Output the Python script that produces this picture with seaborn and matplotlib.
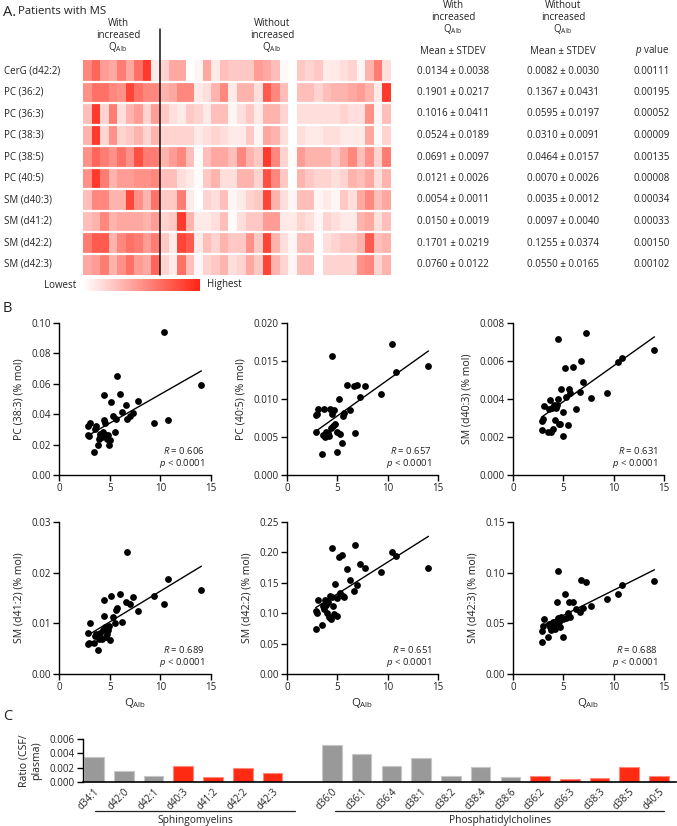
import numpy as np
import pandas as pd
import matplotlib
matplotlib.use("Agg")
import matplotlib.pyplot as plt
import matplotlib.transforms as mtransforms
from matplotlib.colors import LinearSegmentedColormap, to_rgb
import seaborn as sns

sns.set_theme(style="ticks")
plt.rcParams['font.family'] = ['Open Sans', 'DejaVu Sans']
plt.rcParams['mathtext.fontset'] = 'custom'
plt.rcParams['mathtext.rm'] = 'Open Sans'
plt.rcParams['mathtext.it'] = 'Open Sans:italic'
plt.rcParams['axes.edgecolor'] = 'black'
plt.rcParams['xtick.color'] = 'black'
plt.rcParams['ytick.color'] = 'black'
TXT = '#222222'
FS = 7

# ---------------- Panel A data ----------------
lipids = ['CerG (d42:2)', 'PC (36:2)', 'PC (36:3)', 'PC (38:3)', 'PC (38:5)',
          'PC (40:5)', 'SM (d40:3)', 'SM (d41:2)', 'SM (d42:2)', 'SM (d42:3)']
heat_with = [
    [0.55, 0.70, 0.45, 0.40, 0.60, 0.40, 0.65, 0.90, 0.10],
    [0.50, 0.65, 0.65, 0.55, 0.50, 0.85, 0.65, 0.55, 0.55],
    [0.30, 0.90, 0.20, 0.60, 0.15, 0.35, 0.45, 0.20, 0.45],
    [0.35, 0.90, 0.20, 0.50, 0.20, 0.25, 0.35, 0.20, 0.35],
    [0.50, 0.70, 0.60, 0.50, 0.65, 0.50, 0.80, 0.60, 0.60],
    [0.50, 0.90, 0.60, 0.35, 0.45, 0.45, 0.50, 0.50, 0.55],
    [0.30, 0.55, 0.55, 0.35, 0.35, 0.85, 0.50, 0.35, 0.65],
    [0.30, 0.35, 0.55, 0.35, 0.40, 0.40, 0.40, 0.35, 0.45],
    [0.60, 0.75, 0.75, 0.35, 0.55, 0.65, 0.60, 0.45, 0.60],
    [0.40, 0.45, 0.60, 0.35, 0.50, 0.65, 0.45, 0.40, 0.70],
]
heat_without = [
    [0.20, 0.40, 0.40, 0.00, 0.05, 0.40, 0.10, 0.30, 0.25, 0.25, 0.25, 0.45, 0.40, 0.30, 0.03, 0.00, 0.25, 0.20, 0.25, 0.10, 0.10, 0.15, 0.20, 0.05, 0.35, 0.60, 0.15],
    [0.35, 0.40, 0.55, 0.55, 0.10, 0.15, 0.35, 0.55, 0.10, 0.35, 0.35, 0.15, 0.75, 0.55, 0.30, 0.00, 0.30, 0.30, 0.20, 0.30, 0.35, 0.35, 0.40, 0.45, 0.35, 0.10, 0.90],
    [0.25, 0.15, 0.10, 0.25, 0.20, 0.10, 0.30, 0.30, 0.05, 0.15, 0.25, 0.10, 0.35, 0.35, 0.20, 0.00, 0.15, 0.15, 0.15, 0.15, 0.15, 0.20, 0.15, 0.15, 0.50, 0.05, 0.30],
    [0.20, 0.20, 0.20, 0.20, 0.10, 0.15, 0.20, 0.15, 0.10, 0.10, 0.25, 0.05, 0.40, 0.35, 0.15, 0.00, 0.15, 0.10, 0.10, 0.15, 0.15, 0.10, 0.10, 0.10, 0.40, 0.03, 0.20],
    [0.35, 0.45, 0.55, 0.30, 0.02, 0.30, 0.40, 0.40, 0.30, 0.55, 0.35, 0.25, 0.90, 0.55, 0.20, 0.02, 0.45, 0.35, 0.35, 0.35, 0.25, 0.40, 0.55, 0.30, 0.50, 0.20, 0.60],
    [0.30, 0.30, 0.15, 0.10, 0.02, 0.25, 0.35, 0.15, 0.15, 0.35, 0.35, 0.20, 0.80, 0.55, 0.25, 0.00, 0.35, 0.25, 0.20, 0.20, 0.15, 0.20, 0.35, 0.30, 0.40, 0.15, 0.35],
    [0.25, 0.25, 0.60, 0.10, 0.00, 0.20, 0.15, 0.30, 0.05, 0.10, 0.20, 0.25, 0.85, 0.35, 0.15, 0.05, 0.30, 0.30, 0.05, 0.10, 0.05, 0.25, 0.15, 0.40, 0.55, 0.30, 0.40],
    [0.20, 0.25, 0.90, 0.35, 0.10, 0.10, 0.15, 0.30, 0.02, 0.15, 0.25, 0.25, 0.45, 0.45, 0.10, 0.10, 0.20, 0.15, 0.05, 0.20, 0.15, 0.10, 0.10, 0.35, 0.40, 0.15, 0.30],
    [0.25, 0.10, 0.85, 0.75, 0.10, 0.30, 0.20, 0.35, 0.25, 0.25, 0.50, 0.25, 0.85, 0.35, 0.15, 0.05, 0.30, 0.30, 0.00, 0.15, 0.20, 0.25, 0.25, 0.35, 0.75, 0.30, 0.35],
    [0.20, 0.10, 0.65, 0.30, 0.05, 0.20, 0.25, 0.35, 0.15, 0.20, 0.40, 0.25, 0.85, 0.35, 0.20, 0.05, 0.30, 0.30, 0.00, 0.20, 0.20, 0.20, 0.20, 0.50, 0.55, 0.20, 0.35],
]
mean_with = ['0.0134 ± 0.0038', '0.1901 ± 0.0217', '0.1016 ± 0.0411', '0.0524 ± 0.0189',
             '0.0691 ± 0.0097', '0.0121 ± 0.0026', '0.0054 ± 0.0011', '0.0150 ± 0.0019',
             '0.1701 ± 0.0219', '0.0760 ± 0.0122']
mean_without = ['0.0082 ± 0.0030', '0.1367 ± 0.0431', '0.0595 ± 0.0197', '0.0310 ± 0.0091',
                '0.0464 ± 0.0157', '0.0070 ± 0.0026', '0.0035 ± 0.0012', '0.0097 ± 0.0040',
                '0.1255 ± 0.0374', '0.0550 ± 0.0165']
p_values = ['0.00111', '0.00195', '0.00052', '0.00009', '0.00135', '0.00008',
            '0.00034', '0.00033', '0.00150', '0.00102']

# ---------------- Panel B data ----------------
qalb = [2.85, 2.9, 3.0, 3.05, 3.5, 3.6, 3.7, 3.8, 3.9, 4.0, 4.05, 4.2, 4.3, 4.4, 4.45,
        4.5, 4.6, 4.7, 4.8, 4.95, 5.0, 5.15, 5.3, 5.5, 5.6, 5.7, 6.0, 6.25, 6.65, 6.75,
        7.0, 7.3, 7.75, 9.35, 10.4, 10.8, 14.05]
pc_38_3 = [0.026, 0.032, 0.0255, 0.034, 0.015, 0.030, 0.032, 0.020, 0.024, 0.025, 0.027,
           0.025, 0.028, 0.036, 0.0525, 0.034, 0.026, 0.024, 0.026, 0.020, 0.023, 0.048,
           0.039, 0.028, 0.037, 0.065, 0.053, 0.0415, 0.046, 0.037, 0.039, 0.041, 0.049,
           0.034, 0.094, 0.0365, 0.059]
pc_40_5 = [0.0057, 0.0079, 0.0080, 0.0087, 0.0028, 0.0053, 0.0087, 0.0050, 0.0057, 0.0053,
           0.0055, 0.0051, 0.0087, 0.0062, 0.0157, 0.0080, 0.0065, 0.0085, 0.0067, 0.0056,
           0.0030, 0.0100, 0.0054, 0.0042, 0.0077, 0.0082, 0.0118, 0.0086, 0.0117, 0.0055,
           0.0119, 0.0103, 0.0117, 0.0107, 0.0173, 0.0135, 0.0143]
sm_40_3 = [0.00238, 0.00283, 0.00297, 0.00362, 0.00224, 0.00345, 0.00394, 0.00228, 0.00353,
           0.00242, 0.00370, 0.00290, 0.00351, 0.00366, 0.00715, 0.00401, 0.00270, 0.00269,
           0.00454, 0.00330, 0.00203, 0.00562, 0.00412, 0.00261, 0.00452, 0.00429, 0.00569,
           0.00350, 0.00435, 0.00602, 0.00488, 0.00745, 0.00406, 0.00431, 0.00594, 0.00615,
           0.00660]
sm_41_2 = [0.0060, 0.0081, 0.0062, 0.0101, 0.0062, 0.0075, 0.0079, 0.0047, 0.0069, 0.0074,
           0.0080, 0.0070, 0.0087, 0.0115, 0.0146, 0.0092, 0.0073, 0.0079, 0.0087, 0.0094,
           0.0067, 0.0154, 0.0113, 0.0100, 0.0126, 0.0131, 0.0157, 0.0103, 0.0142, 0.0241,
           0.0139, 0.0152, 0.0124, 0.0154, 0.0138, 0.0188, 0.0166]
sm_42_2 = [0.0747, 0.104, 0.1005, 0.121, 0.080, 0.112, 0.107, 0.121, 0.114, 0.1005, 0.118,
           0.094, 0.128, 0.091, 0.207, 0.126, 0.112, 0.099, 0.148, 0.125, 0.096, 0.193,
           0.1335, 0.196, 0.129, 0.126, 0.172, 0.155, 0.136, 0.2115, 0.147, 0.181, 0.174,
           0.167, 0.200, 0.194, 0.175]
sm_42_3 = [0.0311, 0.0423, 0.0478, 0.0544, 0.0367, 0.0498, 0.0459, 0.0436, 0.0475, 0.0518,
           0.0495, 0.0446, 0.0475, 0.0711, 0.1019, 0.0557, 0.0518, 0.0462, 0.0567, 0.0540,
           0.0364, 0.0793, 0.0550, 0.0600, 0.0711, 0.0567, 0.0711, 0.0645, 0.0616, 0.0924,
           0.0655, 0.0904, 0.0671, 0.0737, 0.0789, 0.0881, 0.0920]
scatter_labels = ['PC (38:3) (% mol)', 'PC (40:5) (% mol)', 'SM (d40:3) (% mol)',
                  'SM (d41:2) (% mol)', 'SM (d42:2) (% mol)', 'SM (d42:3) (% mol)']
r_values = ['0.606', '0.657', '0.631', '0.689', '0.651', '0.688']

# ---------------- Panel C data ----------------
sm_names = ['d34:1', 'd42:0', 'd42:1', 'd40:3', 'd41:2', 'd42:2', 'd42:3']
sm_ratio = [0.00345, 0.00150, 0.00086, 0.00228, 0.00066, 0.00190, 0.00127]
sm_sig = [0, 0, 0, 1, 1, 1, 1]
pc_names = ['d36:0', 'd36:1', 'd36:4', 'd38:1', 'd38:2', 'd38:4', 'd38:6',
            'd36:2', 'd36:3', 'd38:3', 'd38:5', 'd40:5']
pc_ratio = [0.00511, 0.00386, 0.00223, 0.00331, 0.00084, 0.00205, 0.00066,
            0.00080, 0.00046, 0.00056, 0.00210, 0.00088]
pc_sig = [0, 0, 0, 0, 0, 0, 0, 1, 1, 1, 1, 1]

# ---------------- Figure ----------------
W, H = 677, 826
fig = plt.figure(figsize=(W / 100, H / 100), dpi=100)
fig.patch.set_facecolor('white')


def add_ax(l, t, r, b):
    return fig.add_axes([l / W, 1 - b / H, (r - l) / W, (b - t) / H])


def ftext(x, y, s, **kw):
    kw.setdefault('fontsize', FS)
    kw.setdefault('color', TXT)
    return fig.text(x / W, 1 - y / H, s, **kw)


QALB = r'Q$_{\mathrm{Alb}}$'

# Panel A title
ftext(3, 12, 'A.', fontsize=10.5, va='center', ha='left')
ftext(18, 12, 'Patients with MS', fontsize=8.2, va='center', ha='left')

# Heatmap
cmap = LinearSegmentedColormap.from_list('wr', ['#ffffff', '#ff2414'])
hdf = pd.DataFrame(np.hstack([np.array(heat_with), np.array(heat_without)]), index=lipids)
axh = add_ax(83, 60, 391, 275)
cax = add_ax(83, 279, 200, 291)
sns.heatmap(hdf, ax=axh, cmap=cmap, vmin=0, vmax=1, xticklabels=False, yticklabels=lipids,
            cbar=True, cbar_ax=cax, cbar_kws={'orientation': 'horizontal'})
axh.set_yticklabels(lipids, rotation=0, ha='left', fontsize=FS, color=TXT)
axh.tick_params(axis='y', length=0, pad=(83 - 4) * 0.72)
axh.set_ylabel('')
for i in range(1, len(lipids)):
    axh.axhline(i, color='white', lw=1.6)
nwith = len(heat_with[0])
axh.plot([nwith, nwith], [len(lipids), (29 - 60) / 21.5], color='#111111', lw=1.1,
         clip_on=False)
cbar = axh.collections[0].colorbar
cbar.outline.set_visible(False)
cax.set_xticks([])
cax.tick_params(length=0)
ftext(76, 285, 'Lowest', ha='right', va='center')
ftext(207, 285, 'Highest', ha='left', va='center')

for cx, w in [(118, 'With'), (272, 'Without')]:
    ftext(cx, 23, w, ha='center', va='center')
    ftext(cx, 35, 'increased', ha='center', va='center')
    ftext(cx, 47, QALB, ha='center', va='center')

# Table
for cx, w in [(453, 'With'), (563, 'Without')]:
    ftext(cx, 6, w, ha='center', va='center')
    ftext(cx, 17, 'increased', ha='center', va='center')
    ftext(cx, 29, QALB, ha='center', va='center')
    ftext(cx, 51, 'Mean ± STDEV', ha='center', va='center')
ftext(652, 51, r'$p$ value', ha='center', va='center')
for i in range(len(lipids)):
    y = 71 + 21.5 * i
    ftext(453, y, mean_with[i], ha='center', va='center')
    ftext(563, y, mean_without[i], ha='center', va='center')
    ftext(652, y, p_values[i], ha='center', va='center')

# Panel B
ftext(3, 308, 'B', fontsize=10.5, ha='left', va='center')
series = [pc_38_3, pc_40_5, sm_40_3, sm_41_2, sm_42_2, sm_42_3]
ylims = [(0.10, 0.02, '{:.2f}'), (0.020, 0.005, '{:.3f}'), (0.008, 0.002, '{:.3f}'),
         (0.03, 0.01, '{:.2f}'), (0.25, 0.05, '{:.2f}'), (0.15, 0.05, '{:.2f}')]
cols = [(59, 211), (287, 438), (513, 664)]
rows_px = [(323, 475), (522, 674)]
for k in range(6):
    (l, r) = cols[k % 3]
    (t, b) = rows_px[k // 3]
    ax = add_ax(l, t, r, b)
    df = pd.DataFrame({'qalb': qalb, 'val': series[k]})
    sns.regplot(data=df, x='qalb', y='val', ax=ax, ci=None, truncate=True,
                scatter_kws=dict(s=24, color='black', alpha=1, linewidths=0, clip_on=False),
                line_kws=dict(color='black', lw=1.0))
    top, step, fmt = ylims[k]
    ax.set_xlim(0, 15)
    ax.set_ylim(0, top)
    ax.set_xticks([0, 5, 10, 15])
    yt = np.arange(0, top + step / 2, step)
    ax.set_yticks(yt)
    ax.set_yticklabels([fmt.format(v) for v in yt])
    sns.despine(ax=ax)
    for s in ['left', 'bottom']:
        ax.spines[s].set_linewidth(1.0)
        ax.spines[s].set_color('black')
    ax.tick_params(length=4, width=1.0, labelsize=FS, labelcolor=TXT, pad=2)
    ax.set_ylabel(scatter_labels[k], fontsize=7.6, color=TXT, labelpad=5)
    if k >= 3:
        ax.set_xlabel(QALB, fontsize=8.2, color=TXT, labelpad=2)
    else:
        ax.set_xlabel('')
    ax.text(0.96, 0.162, r'$R$ = ' + r_values[k], transform=ax.transAxes, ha='right',
            va='center', fontsize=6.8, color=TXT)
    ax.text(0.96, 0.075, r'$p$ < 0.0001', transform=ax.transAxes, ha='right',
            va='center', fontsize=6.8, color=TXT)

# Panel C
ftext(3, 717, 'C', fontsize=10.5, ha='left', va='center')
axc = add_ax(83, 739, 676, 782)
keys = ['SM ' + n for n in sm_names] + ['PC ' + n for n in pc_names]
cdf = pd.DataFrame({'key': keys, 'ratio': sm_ratio + pc_ratio,
                    'cls': ['sig' if s else 'ns' for s in sm_sig + pc_sig]})
order = ['SM ' + n for n in sm_names] + ['gap'] + ['PC ' + n for n in pc_names]
sns.barplot(data=cdf, x='key', y='ratio', hue='cls', order=order, dodge=False,
            palette={'ns': '#999999', 'sig': '#ff2a12'}, width=0.66, ax=axc,
            legend=False, saturation=1)
for p in axc.patches:
    fc = np.array(to_rgb(p.get_facecolor()))
    p.set_edgecolor(tuple(fc + (1 - fc) * 0.45))
    p.set_linewidth(0.8)
axc.set_xlim(-0.37, 19.57)
axc.set_ylim(0, 0.006)
axc.set_yticks([0, 0.002, 0.004, 0.006])
axc.set_yticklabels(['0.000', '0.002', '0.004', '0.006'])
axc.set_xticks(range(len(order)))
axc.set_xticklabels(sm_names + [''] + pc_names, rotation=45, ha='right',
                    rotation_mode='anchor', fontsize=FS, color=TXT)
sns.despine(ax=axc)
axc.spines['left'].set_linewidth(1.0)
axc.spines['bottom'].set_linewidth(1.2)
axc.tick_params(axis='y', length=4, width=1.0, labelsize=FS, labelcolor=TXT, pad=2)
axc.tick_params(axis='x', length=0, pad=3)
axc.set_xlabel('')
axc.set_ylabel('Ratio (CSF/\nplasma)', fontsize=7.6, color=TXT, labelpad=5)
trans = mtransforms.blended_transform_factory(axc.transData, axc.transAxes)
yline = (782 - 811) / 43
ylab = (782 - 821) / 43
axc.plot([0.03, 6.76], [yline, yline], color='#222222', lw=0.9, transform=trans, clip_on=False)
axc.plot([8.1, 19.17], [yline, yline], color='#222222', lw=0.9, transform=trans, clip_on=False)
axc.text(3.4, ylab, 'Sphingomyelins', transform=trans, ha='center', va='center',
         fontsize=7.4, color=TXT)
axc.text(13.65, ylab, 'Phosphatidylcholines', transform=trans, ha='center', va='center',
         fontsize=7.4, color=TXT)

fig.savefig('out.png', dpi=100, facecolor='white')
